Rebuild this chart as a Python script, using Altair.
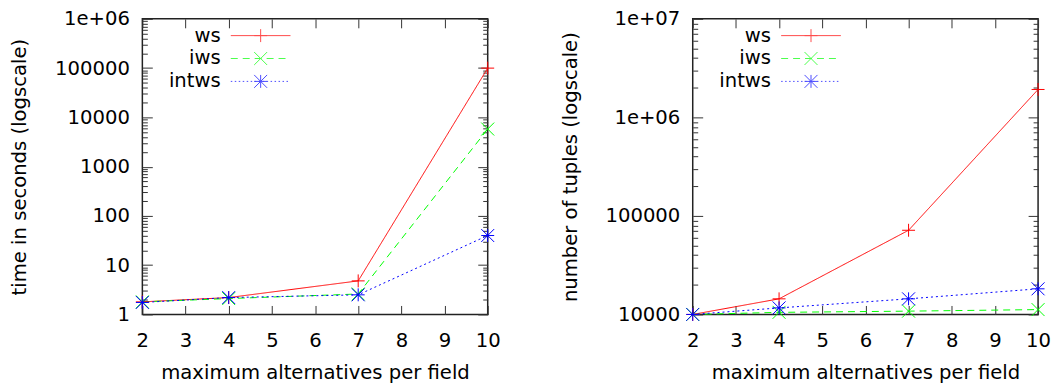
import altair as alt
import pandas as pd

# ---------------- data ----------------
x_vals = [2, 4, 7, 10]
series_names = ["ws", "iws", "intws"]

time_ws = [1.8, 2.2, 4.8, 100000]
time_iws = [1.8, 2.1, 2.6, 5800]
time_intws = [1.75, 2.2, 2.5, 40]

tuples_ws = [10000, 14400, 71500, 1920000]
tuples_iws = [10000, 10500, 10800, 11200]
tuples_intws = [10000, 11650, 14400, 18200]

x_ticks = [2, 3, 4, 5, 6, 7, 8, 9, 10]
time_major = [1, 10, 100, 1000, 10000, 100000, 1000000]
tuples_major = [10000, 100000, 1000000, 10000000]

x_title = "maximum alternatives per field"
time_title = "time in seconds (logscale)"
tuples_title = "number of tuples (logscale)"

colors = ["#ff0000", "#00ff00", "#0000ff"]
dashes = [[1, 0], [7, 5], [2, 3]]


def minor_ticks(major):
    out = []
    for m in major[:-1]:
        for k in range(2, 10):
            out.append(m * k)
    return out


def long_df(ws, iws, intws):
    rows = []
    for name, vals in zip(series_names, [ws, iws, intws]):
        for x, v in zip(x_vals, vals):
            rows.append({"x": x, "series": name, "value": v})
    return pd.DataFrame(rows)


# ---------------- styles ----------------
FONT = "DejaVu Sans"
FS = 19.7
MSIZE = 169  # marker 13px wide
UNIT = 6.5   # px per path unit

plus = "M-1,0L1,0M0,-1L0,1"
cross = "M-1,-1L1,1M-1,1L1,-1"
star = plus + cross
marker_paths = [plus, cross, star]


def seg_path(half, dash, gap):
    if gap == 0:
        return f"M{-half:.3f},0L{half:.3f},0"
    parts = []
    p = -half
    while p < half:
        e = min(p + dash, half)
        parts.append(f"M{p:.3f},0L{e:.3f},0")
        p = e + gap
    return "".join(parts)


HALF = 30 / UNIT
legend_paths = [
    seg_path(HALF, 0, 0) + plus,
    seg_path(HALF, 7 / UNIT, 5 / UNIT) + cross,
    seg_path(HALF, 1.5 / UNIT, 2.5 / UNIT) + star,
]

label_expr = ("datum.value >= 1000000 ? '1e+0' + round(log(datum.value) / LN10)"
              " : format(datum.value, 'd')")


def tick_axis(orient, values, size):
    return alt.Axis(orient=orient, values=values, labels=False, ticks=True,
                    tickSize=size, offset=-size, domain=False, grid=False,
                    title=None, tickColor="#333", tickWidth=1)


def panel(df, ymajor, ytitle):
    xs = alt.Scale(domain=[2, 10], nice=False, zero=False)
    ys = alt.Scale(type="log", domain=[ymajor[0], ymajor[-1]], nice=False)
    cscale = alt.Scale(domain=series_names, range=colors)
    base = alt.Chart(df)

    leg = alt.Legend(orient="none", legendX=109, legendY=7, title=None,
                     labelAlign="right", labelOffset={"expr": "-50"}, labelFont=FONT,
                     labelFontSize=FS, labelColor="black", symbolSize=MSIZE,
                     symbolStrokeWidth=1, rowPadding=2, padding=0)

    lines = base.mark_line(strokeWidth=1).encode(
        x=alt.X("x:Q", scale=xs, axis=alt.Axis(
            values=x_ticks, title=x_title, ticks=False, tickSize=0, domain=False,
            grid=False, labelPadding=16, titlePadding=13, labelFlush=False,
            format="d")),
        y=alt.Y("value:Q", scale=ys, axis=alt.Axis(
            values=ymajor, title=ytitle, labelExpr=label_expr, ticks=False,
            tickSize=0, domain=False, grid=False, labelPadding=13,
            titlePadding=25, labelOverlap=False)),
        color=alt.Color("series:N", scale=cscale, legend=None),
        strokeDash=alt.StrokeDash("series:N",
                                  scale=alt.Scale(domain=series_names, range=dashes),
                                  legend=None),
    )
    points = base.mark_point(filled=False, size=MSIZE, strokeWidth=1, opacity=1).encode(
        x=alt.X("x:Q", scale=xs, axis=tick_axis("bottom", x_ticks, 9)),
        y=alt.Y("value:Q", scale=ys, axis=tick_axis("left", ymajor, 10)),
        color=alt.Color("series:N", scale=cscale, legend=None),
        shape=alt.Shape("series:N",
                        scale=alt.Scale(domain=series_names, range=marker_paths),
                        legend=None),
    )
    minor_left = base.mark_point(opacity=0).encode(
        x=alt.X("x:Q", scale=xs, axis=None),
        y=alt.Y("value:Q", scale=ys, axis=tick_axis("left", minor_ticks(ymajor), 5)),
    )
    minor_right = base.mark_point(opacity=0).encode(
        x=alt.X("x:Q", scale=xs, axis=None),
        y=alt.Y("value:Q", scale=ys, axis=tick_axis("right", minor_ticks(ymajor), 5)),
    )
    legend_layer = base.transform_filter("false").mark_point(
        filled=False, size=MSIZE, strokeWidth=1).encode(
        x=alt.X("x:Q", scale=xs, axis=tick_axis("top", x_ticks, 9)),
        y=alt.Y("value:Q", scale=ys, axis=tick_axis("right", ymajor, 10)),
        color=alt.Color("series:N", scale=cscale, legend=leg),
        shape=alt.Shape("series:N",
                        scale=alt.Scale(domain=series_names, range=legend_paths),
                        legend=leg),
    )
    return alt.layer(lines, points, minor_left, minor_right, legend_layer).resolve_scale(
        color="independent", shape="independent"
    ).resolve_axis(x="independent", y="independent").properties(width=347, height=297)


left = panel(long_df(time_ws, time_iws, time_intws), time_major, time_title)
right = panel(long_df(tuples_ws, tuples_iws, tuples_intws), tuples_major, tuples_title)

chart = alt.hconcat(left, right, spacing=58).properties(
    padding={"top": -1, "left": 1, "right": 2, "bottom": 2},
    background="white",
).configure_view(
    stroke="#222", strokeWidth=1.5
).configure_axis(
    labelFont=FONT, titleFont=FONT, labelFontSize=FS, titleFontSize=FS,
    labelColor="black", titleColor="black", titleFontWeight="normal",
).configure_legend(
    labelFont=FONT, labelFontSize=FS
)

chart.save("out.html", embed_options={"renderer": "svg", "actions": False})
